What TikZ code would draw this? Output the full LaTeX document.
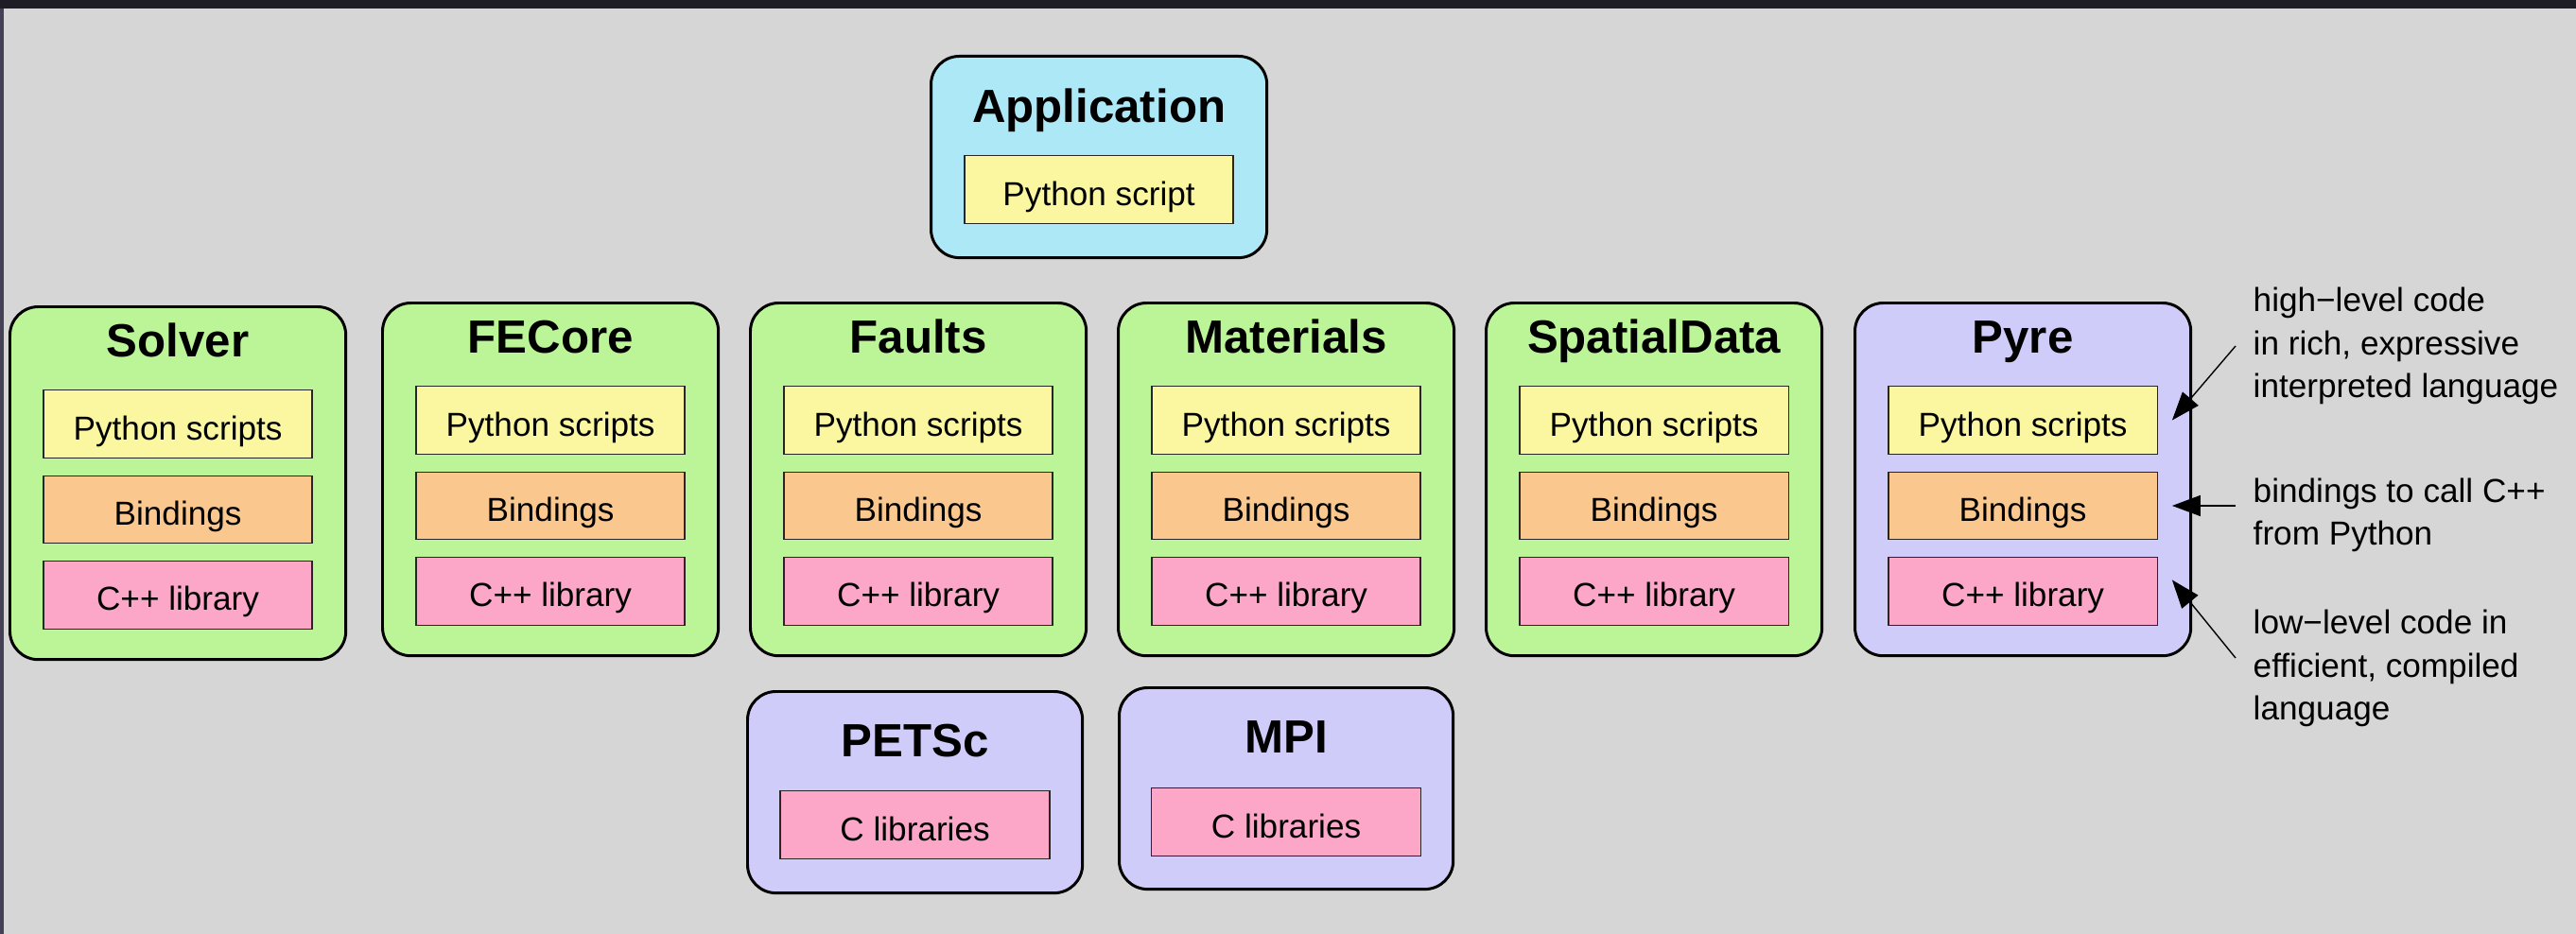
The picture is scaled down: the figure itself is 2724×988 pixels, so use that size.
\documentclass[tikz,border=0pt]{standalone}
\usepackage{fontspec}
\setmainfont{Liberation Sans}
\usepackage{xcolor}
\definecolor{bggray}{RGB}{214,214,214}
\definecolor{topbar}{RGB}{30,28,36}
\definecolor{sidebar}{RGB}{68,64,86}
\definecolor{modgreen}{RGB}{188,245,152}
\definecolor{appblue}{RGB}{173,232,247}
\definecolor{extviolet}{RGB}{208,204,250}
\definecolor{pyyellow}{RGB}{250,247,160}
\definecolor{bindorange}{RGB}{250,200,143}
\definecolor{libpink}{RGB}{252,166,200}
\usepackage{tikz}
\usetikzlibrary{arrows.meta,positioning}
\tikzset{
  module/.style={draw,line width=0.85pt,rounded corners=0.3cm,anchor=north west,%
    minimum width=3.55cm,minimum height=3.73cm,inner sep=0pt},
  extmodule/.style={module,minimum height=2.13cm},
  title/.style={anchor=base,inner sep=0pt,font=\fontsize{14}{17}\selectfont\bfseries},
  layer/.style={draw=black!85,line width=0.4pt,minimum width=2.84cm,minimum height=0.715cm,%
    inner sep=0pt,text height=0.33cm,text depth=0pt,font=\fontsize{10}{12}\selectfont},
  note/.style={anchor=west,align=left,inner xsep=0.18cm,inner ysep=0pt,%
    font=\fontsize{10}{13}\selectfont},
  pointer/.style={-{Triangle[length=0.3cm,width=0.22cm]},line width=0.4pt},
}

\begin{document}
\begin{tikzpicture}[x=0.01cm,y=-0.01cm]
\fill[bggray] (0,0) rectangle (2724,988);
\fill[topbar] (0,0) rectangle (2724,9);
\fill[sidebar] (0,9) rectangle (4,988);
\useasboundingbox (0,0) rectangle (2724,988);

% application on top
\node[extmodule,fill=appblue] (app) at (983,58) {};
\node[title] at ([yshift=-0.71cm]app.north) {Application};
\node[layer,fill=pyyellow,below=1.06cm of app.north] (app-py) {Python script};

% python/C++ modules
\foreach \name/\title/\x/\y/\col in {solver/Solver/9/323/modgreen,
    fecore/FECore/403/319/modgreen, faults/Faults/792/319/modgreen,
    materials/Materials/1181/319/modgreen, spatial/SpatialData/1570/319/modgreen,
    pyre/Pyre/1960/319/extviolet}{
  \node[module,fill=\col] (\name) at (\x,\y) {};
  \node[title] at ([yshift=-0.54cm]\name.north) {\title};
  \node[layer,fill=pyyellow,below=0.89cm of \name.north] (\name-py) {Python scripts};
  \node[layer,fill=bindorange,below=0.175cm of \name-py] (\name-bind) {Bindings};
  \node[layer,fill=libpink,below=0.175cm of \name-bind] (\name-lib) {C++ library};
}

% external C libraries
\node[extmodule,fill=extviolet,minimum width=3.54cm] (petsc) at (789,730) {};
\node[title] at ([yshift=-0.70cm]petsc.north) {PETSc};
\node[layer,fill=libpink,below=1.06cm of petsc.north,minimum width=2.85cm] (petsc-lib) {C libraries};
\node[extmodule,fill=extviolet,minimum width=3.53cm] (mpi) at (1182,726) {};
\node[title] at ([yshift=-0.70cm]mpi.north) {MPI};
\node[layer,fill=libpink,below=1.07cm of mpi.north,minimum width=2.85cm] (mpi-lib) {C libraries};

% notes on the layers
\node[note] (hlnote) at (2364,366) {high−level code\\in rich, expressive\\interpreted language};
\node[note] (bindnote) at (2364,545) {bindings to call C++\\from Python};
\node[note] (llnote) at (2364,707) {low−level code in\\efficient, compiled\\language};
\draw[pointer] (hlnote.west) -- ([xshift=0.15cm]pyre-py.east);
\draw[pointer] (bindnote.west |- pyre-bind.east) -- ([xshift=0.15cm]pyre-bind.east);
\draw[pointer] ([yshift=0.11cm]llnote.west) -- ([xshift=0.15cm,yshift=0.12cm]pyre-lib.east);
\end{tikzpicture}
\end{document}
